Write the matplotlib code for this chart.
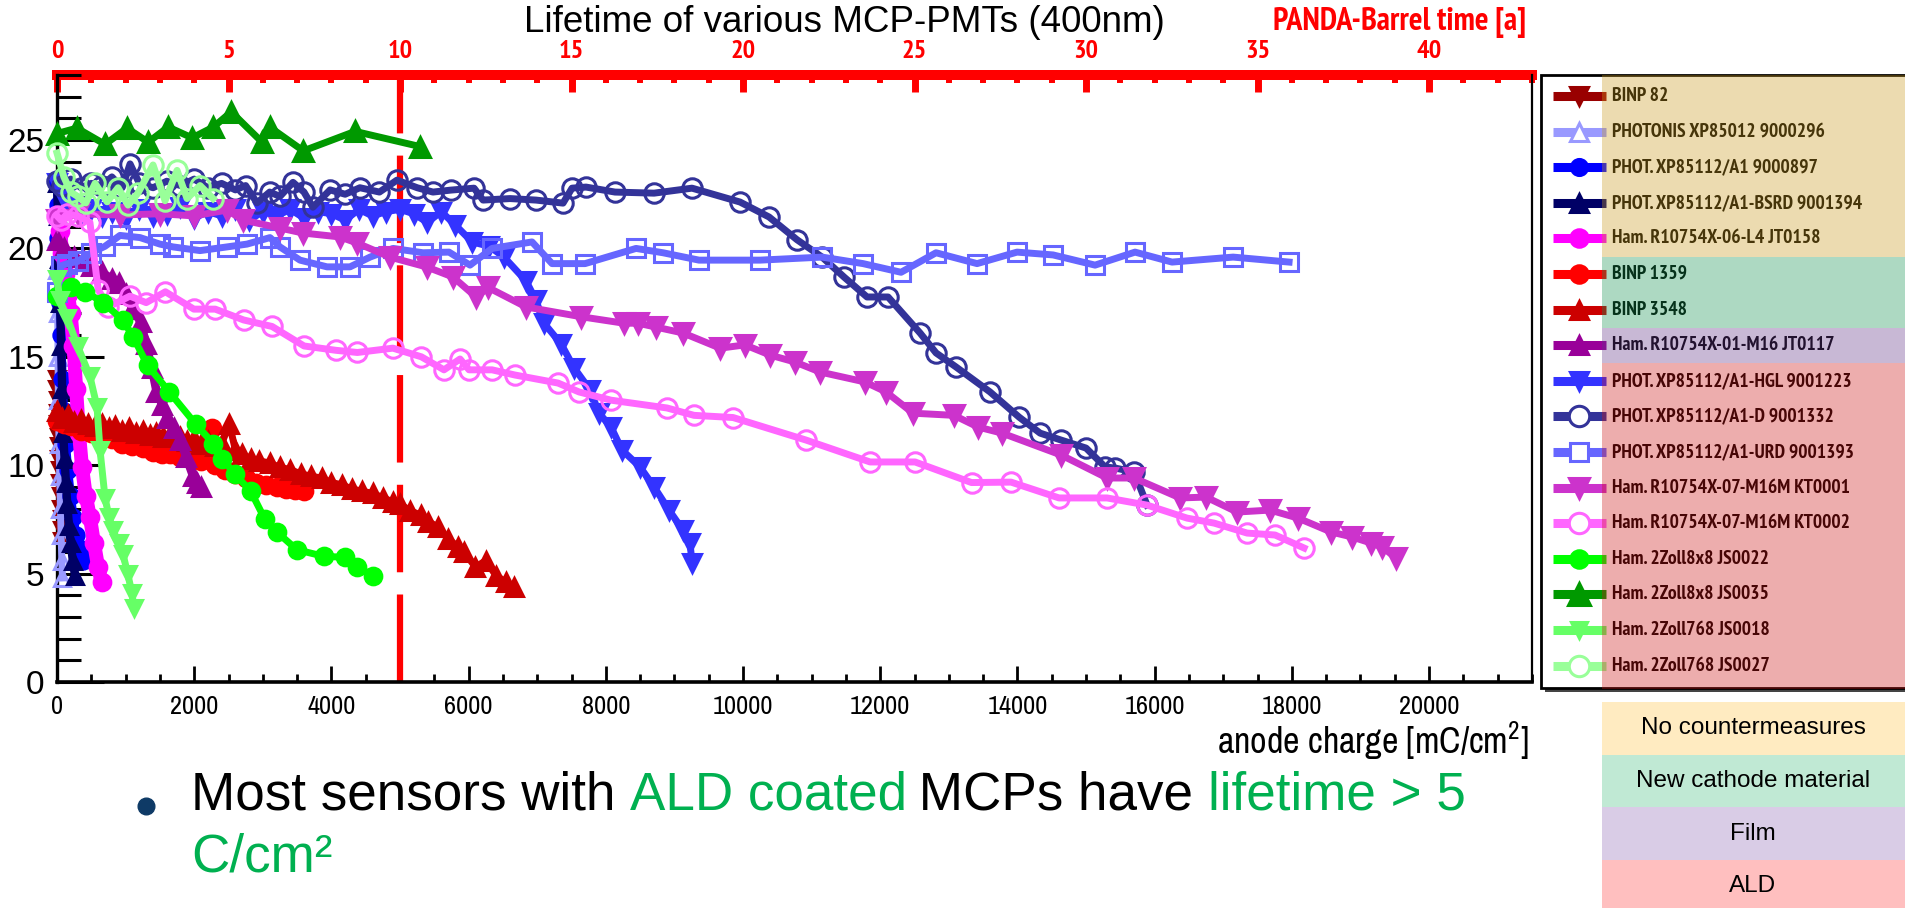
import matplotlib
matplotlib.use("Agg")
import matplotlib.pyplot as plt
from matplotlib.lines import Line2D
from matplotlib.patches import Rectangle
from matplotlib.ticker import MultipleLocator, FixedLocator
from matplotlib import font_manager

# ---------------- data ----------------
binp82_x = [0, 5, 10, 15, 20, 25, 30, 36, 42, 48, 54, 60, 66, 72, 78]
binp82_y = [14.0, 13.5, 13.0, 12.4, 11.9, 11.3, 10.9, 10.3, 9.8, 9.2, 8.6, 8.0, 7.5, 7.0, 6.5]

photonis_x = [0, 5, 10, 15, 20, 30, 40, 50, 60, 70, 80]
photonis_y = [20.5, 19.0, 17.0, 15.0, 13.0, 11.0, 9.5, 8.0, 6.8, 5.6, 4.8]

a1_897_x = [0, 10, 20, 30, 45, 60, 80, 100, 130, 160, 200, 240, 280, 320, 360, 380]
a1_897_y = [23.0, 22.0, 20.5, 19.0, 17.5, 16.0, 14.0, 12.5, 11.0, 9.8, 8.6, 7.6, 6.8, 6.2, 5.8, 5.6]

bsrd_x = [0, 15, 30, 45, 60, 75, 90, 110, 130, 150, 175, 200, 230, 262]
bsrd_y = [23.0, 21.5, 19.5, 17.5, 15.5, 13.5, 11.5, 10.3, 9.2, 8.2, 7.2, 6.4, 5.6, 4.9]

jt0158_x = [0, 40, 80, 120, 160, 200, 240, 280, 320, 365, 420, 480, 540, 600, 650]
jt0158_y = [21.5, 20.8, 19.8, 18.8, 17.9, 17.0, 15.5, 13.5, 11.5, 9.9, 8.6, 7.6, 6.4, 5.3, 4.6]

binp1359_x = [0, 100, 200, 350, 500, 650, 800, 950, 1100, 1250, 1400, 1528, 1650, 1800,
              1950, 2100, 2254, 2306, 2450, 2600, 2750, 2900, 3050, 3200, 3342, 3470, 3601]
binp1359_y = [12.05, 11.9, 11.8, 11.6, 11.5, 11.3, 11.2, 11.0, 10.9, 10.8, 10.6, 10.5, 10.5, 10.4,
              10.3, 10.2, 11.7, 10.0, 9.8, 9.6, 9.4, 9.2, 9.1, 9.0, 8.9, 8.85, 8.8]

binp3548_x = [0, 80, 160, 250, 350, 450, 550, 650, 751, 850, 950, 1050, 1150, 1250, 1350, 1450,
              1550, 1650, 1788, 1900, 2000, 2100, 2200, 2300, 2400, 2513, 2600, 2700, 2824, 2950,
              3100, 3250, 3400, 3550, 3700, 3860, 4000, 4150, 4300, 4450, 4600, 4750, 4900, 5000,
              5150, 5300, 5415, 5550, 5700, 5850, 5933, 6100, 6250, 6400, 6550, 6658]
binp3548_y = [12.5, 12.2, 12.3, 12.0, 12.1, 11.9, 11.8, 11.9, 11.7, 11.8, 11.6, 11.7, 11.5, 11.6, 11.4, 11.5,
              11.3, 11.4, 11.3, 11.1, 11.2, 11.0, 11.1, 10.9, 11.0, 11.9, 10.7, 10.5, 10.3, 10.2,
              10.1, 9.9, 9.8, 9.6, 9.5, 9.4, 9.2, 9.1, 8.9, 8.8, 8.7, 8.5, 8.3, 8.2,
              7.9, 7.7, 7.4, 7.15, 6.6, 6.23, 6.0, 5.3, 5.6, 4.9, 4.6, 4.4]

jt0117_x = [0, 100, 250, 400, 492, 650, 800, 907, 1000, 1100, 1218, 1300, 1380, 1450, 1530,
            1603, 1700, 1793, 1880, 1982, 2040, 2098]
jt0117_y = [20.4, 20.0, 19.6, 19.4, 19.2, 18.9, 18.6, 18.4, 17.9, 17.2, 16.6, 15.6, 14.5, 13.4, 12.8,
            12.2, 11.7, 11.16, 10.4, 9.5, 9.2, 9.0]

hgl_x = [0, 100, 200, 350, 500, 650, 800, 1000, 1200, 1400, 1600, 1800, 2000, 2200, 2400, 2600,
         2800, 3000, 3200, 3400, 3600, 3800, 4000, 4200, 4400, 4600, 4800, 5000, 5200, 5400, 5600,
         5800, 6050, 6300, 6516, 6837, 6983, 7099, 7347, 7536, 7770, 7901, 8076, 8236, 8498, 8703,
         8921, 9125, 9227, 9256]
hgl_y = [23.0, 22.3, 21.9, 21.6, 21.8, 21.5, 21.7, 21.4, 21.8, 21.5, 21.6, 21.9, 21.4, 21.7, 21.5, 21.8,
         21.3, 21.7, 21.5, 21.8, 21.4, 21.7, 21.6, 21.3, 21.8, 21.5, 21.7, 21.8, 21.6, 21.2, 21.7,
         21.1, 20.3, 20.1, 19.6, 18.5, 17.6, 16.55, 15.6, 14.5, 13.47, 12.4, 11.76, 10.7, 9.92, 9.0,
         7.93, 7.0, 6.41, 5.5]

d1332_x = [0, 80, 200, 350, 500, 650, 800, 950, 1065, 1200, 1400, 1600, 1800, 2000, 2200, 2400,
           2600, 2750, 2915, 3100, 3250, 3440, 3600, 3730, 3980, 4200, 4415, 4700, 4955, 5250,
           5480, 5739, 6079, 6210, 6604, 6983, 7376, 7507, 7711, 8134, 8703, 9256, 9956, 10379,
           10787, 11152, 11472, 11807, 12114, 12580, 12813, 13105, 13600, 14023, 14330, 14636,
           15000, 15277, 15423, 15700, 15889]
d1332_y = [23.1, 22.9, 23.2, 22.8, 23.0, 22.9, 23.3, 22.8, 23.9, 23.0, 22.8, 23.1, 22.9, 23.2, 22.8, 23.0,
           22.7, 22.9, 22.1, 22.6, 22.4, 23.05, 22.6, 21.9, 22.7, 22.5, 22.8, 22.6, 23.15, 22.8,
           22.6, 22.69, 22.78, 22.23, 22.3, 22.23, 22.09, 22.78, 22.83, 22.6, 22.55, 22.78, 22.14, 21.45,
           20.4, 19.6, 18.68, 17.76, 17.76, 16.1, 15.18, 14.53, 13.38, 12.22, 11.48, 11.16,
           10.79, 9.92, 9.87, 9.69, 8.16]

urd_x = [0, 60, 150, 300, 500, 700, 918, 1210, 1500, 1691, 2085, 2478, 2770, 3105, 3250, 3542,
         3936, 4271, 4563, 4898, 5335, 5714, 6020, 6341, 6924, 7216, 7697, 8440, 8834, 9358, 10248,
         11152, 11749, 12303, 12813, 13411, 13994, 14519, 15131, 15714, 16253, 17143, 17959]
urd_y = [18.0, 19.2, 19.3, 19.4, 19.8, 20.1, 20.6, 20.5, 20.2, 20.07, 19.9, 20.07, 20.2, 20.5, 20.07, 19.46,
         19.15, 19.15, 19.6, 20.0, 19.8, 19.83, 19.23, 20.0, 20.3, 19.3, 19.3, 20.0, 19.8, 19.46, 19.46,
         19.6, 19.3, 18.9, 19.8, 19.3, 19.83, 19.7, 19.23, 19.83, 19.37, 19.6, 19.37]

kt0001_x = [0, 300, 918, 1500, 2000, 2478, 2711, 3250, 3586, 4125, 4373, 4854, 5394, 5773, 6108,
            6283, 6837, 7638, 8265, 8469, 8732, 9125, 9665, 10029, 10394, 10758, 11122, 11778, 12085,
            12478, 13076, 13426, 13776, 14636, 15306, 15700, 16370, 16749, 17201, 17682, 18090,
            18571, 18877, 19155, 19315, 19519]
kt0001_y = [21.3, 21.6, 21.54, 21.6, 21.5, 21.77, 21.31, 20.94, 20.71, 20.53, 20.25, 19.6, 19.14, 18.68, 17.76,
            18.2, 17.3, 16.85, 16.55, 16.55, 16.37, 16.1, 15.4, 15.55, 15.08, 14.76, 14.3, 13.84, 13.38,
            12.4, 12.3, 11.76, 11.48, 10.47, 9.41, 9.41, 8.49, 8.53, 7.84, 7.93, 7.56,
            6.92, 6.69, 6.41, 6.23, 5.72]

kt0002_x = [0, 60, 150, 300, 480, 600, 750, 1062, 1300, 1580, 1995, 2306, 2720, 3135, 3601, 4067,
            4378, 4896, 5311, 5641, 5875, 6006, 6341, 6676, 7303, 7609, 8076, 8892, 9286, 9854,
            10918, 11851, 12507, 13330, 13907, 14606, 15306, 15889, 16472, 16866, 17347, 17755, 18178]
kt0002_y = [21.5, 21.3, 21.6, 21.5, 21.2, 18.1, 17.3, 17.8, 17.5, 18.0, 17.2, 17.2, 16.7, 16.4, 15.5, 15.3,
            15.2, 15.4, 15.0, 14.4, 14.9, 14.4, 14.4, 14.16, 13.79, 13.38, 13.0, 12.64, 12.3, 12.2,
            11.16, 10.15, 10.15, 9.2, 9.22, 8.49, 8.49, 8.16, 7.56, 7.33, 6.87, 6.78, 6.18]

js0022_x = [0, 207, 415, 674, 958, 1114, 1321, 1632, 2020, 2280, 2409, 2590, 2824, 3031, 3212,
            3497, 3886, 4197, 4378, 4611]
js0022_y = [17.8, 18.2, 18.0, 17.5, 16.7, 15.9, 14.6, 13.4, 11.9, 11.0, 10.3, 9.6, 8.8, 7.5, 6.9,
            6.1, 5.8, 5.75, 5.3, 4.9]

js0035_x = [0, 290, 700, 1020, 1330, 1620, 1970, 2280, 2540, 2990, 3100, 3590, 4345, 5290]
js0035_y = [25.3, 25.55, 24.8, 25.55, 24.9, 25.6, 25.1, 25.6, 26.3, 24.9, 25.6, 24.5, 25.4, 24.7]

js0018_x = [0, 44, 150, 300, 480, 583, 627, 700, 760, 816, 900, 962, 1030, 1093, 1120]
js0018_y = [18.6, 17.6, 16.8, 15.5, 14.1, 12.7, 10.7, 8.5, 7.6, 7.0, 6.4, 5.9, 5.0, 4.1, 3.4]

js0027_x = [0, 100, 200, 300, 420, 555, 730, 890, 1035, 1180, 1400, 1575, 1750, 1895, 2085, 2275]
js0027_y = [24.4, 23.3, 22.6, 22.4, 22.1, 23.0, 22.15, 22.8, 22.0, 22.55, 23.85, 22.2, 23.6, 22.3, 22.9, 22.3]

labels = ["BINP 82", "PHOTONIS XP85012 9000296", "PHOT. XP85112/A1 9000897",
          "PHOT. XP85112/A1-BSRD 9001394", "Ham. R10754X-06-L4 JT0158", "BINP 1359", "BINP 3548",
          "Ham. R10754X-01-M16 JT0117", "PHOT. XP85112/A1-HGL 9001223", "PHOT. XP85112/A1-D 9001332",
          "PHOT. XP85112/A1-URD 9001393", "Ham. R10754X-07-M16M KT0001", "Ham. R10754X-07-M16M KT0002",
          "Ham. 2Zoll8x8 JS0022", "Ham. 2Zoll8x8 JS0035", "Ham. 2Zoll768 JS0018", "Ham. 2Zoll768 JS0027"]
xs = [binp82_x, photonis_x, a1_897_x, bsrd_x, jt0158_x, binp1359_x, binp3548_x, jt0117_x, hgl_x,
      d1332_x, urd_x, kt0001_x, kt0002_x, js0022_x, js0035_x, js0018_x, js0027_x]
ys = [binp82_y, photonis_y, a1_897_y, bsrd_y, jt0158_y, binp1359_y, binp3548_y, jt0117_y, hgl_y,
      d1332_y, urd_y, kt0001_y, kt0002_y, js0022_y, js0035_y, js0018_y, js0027_y]

bottom_ticks = [0, 2000, 4000, 6000, 8000, 10000, 12000, 14000, 16000, 18000, 20000]
left_ticks = [0, 5, 10, 15, 20, 25]
top_ticks = [0, 5, 10, 15, 20, 25, 30, 35, 40]
categories = ["No countermeasures", "New cathode material", "Film", "ALD"]

# ---------------- styles ----------------
colors = ["#990000", "#9999FF", "#0000FF", "#000066", "#FF00FF", "#FF0000", "#CC0000", "#990099",
          "#3333FF", "#333399", "#6666FF", "#CC33CC", "#FF66FF", "#00FF00", "#009900", "#66FF66", "#99FF99"]
markers = ["v", "^", "o", "^", "o", "o", "^", "^", "v", "o", "s", "v", "o", "o", "^", "v", "o"]
filled = [True, False, True, True, True, True, True, True, True, False, False, True, False, True, True, True, False]
msizes = [12, 12, 11, 12, 12, 12, 13, 13, 13, 14, 13, 14, 14, 12, 15, 11, 14]
lwidths = [6, 5, 6, 6, 10, 5, 5, 6, 5, 5, 5, 5, 5, 5, 5, 5, 5]


def _w(v):
    if isinstance(v, str):
        return font_manager.weight_dict.get(v, 400)
    return v


entries = font_manager.fontManager.ttflist
reg_pref = ["Liberation Sans Narrow", "Arial Narrow", "Archivo Narrow", "Roboto Condensed",
            "PT Sans Narrow", "Fira Sans Condensed", "IBM Plex Sans Condensed"]
bold_pref = ["Liberation Sans Narrow", "Arial Narrow", "PT Sans Narrow", "Archivo Narrow",
             "Fira Sans Condensed", "IBM Plex Sans Condensed", "Roboto Condensed"]
reg_ok = {f.name for f in entries if _w(f.weight) <= 500 and f.style == "normal"}
bold_ok = {f.name for f in entries if _w(f.weight) >= 650 and f.style == "normal"}
NARROW_REG = next((n for n in reg_pref if n in reg_ok), "Liberation Sans")
NARROW_BOLD = next((n for n in bold_pref if n in bold_ok), "Liberation Sans")
NARROW = [NARROW_REG, "Liberation Sans"]
NARROWB = [NARROW_BOLD, "Liberation Sans"]
SANS = ["Liberation Sans", "DejaVu Sans"]
plt.rcParams["lines.scale_dashes"] = False
plt.rcParams["mathtext.fontset"] = "custom"
plt.rcParams["mathtext.rm"] = NARROW_REG

W, H = 1905, 908
fig = plt.figure(figsize=(W / 100, H / 100), dpi=100)
renderer = fig.canvas.get_renderer()


def fx(px):
    return px / W


def fy(py):
    return 1 - py / H


def measured(s, **kw):
    t = fig.text(0, 0, s, **kw)
    w = t.get_window_extent(renderer).width
    t.remove()
    return w


ax = fig.add_axes([fx(57), fy(682), fx(1532) - fx(57), fy(75) - fy(682)])
ax.set_xlim(0, 21500)
ax.set_ylim(0, 28)

for i in range(len(labels)):
    ax.plot(xs[i], ys[i], color=colors[i], lw=lwidths[i], marker=markers[i], ms=msizes[i],
            mfc=colors[i] if filled[i] else "none", mec=colors[i], mew=2.2,
            clip_on=False, zorder=3 + i * 0.01)

ax.axvline(5000, color="#FF0000", lw=4.5, dashes=(63, 16), zorder=2)

ax.xaxis.set_major_locator(FixedLocator(bottom_ticks))
ax.xaxis.set_minor_locator(MultipleLocator(500))
ax.yaxis.set_major_locator(FixedLocator(left_ticks))
ax.yaxis.set_minor_locator(MultipleLocator(1))
ax.set_xticklabels([str(t) for t in bottom_ticks], fontsize=19, family=NARROW)
ax.set_yticklabels([str(t) for t in left_ticks], fontsize=24, family=SANS)
ax.tick_params(axis="x", which="major", direction="in", length=11.5, width=2, pad=9, top=False)
ax.tick_params(axis="x", which="minor", direction="in", length=6, width=2, top=False)
ax.tick_params(axis="y", which="major", direction="in", length=34, width=2.2, pad=9, right=False)
ax.tick_params(axis="y", which="minor", direction="in", length=17, width=2.2, right=False)
ax.spines["left"].set_linewidth(2.4)
ax.spines["bottom"].set_linewidth(2.6)
ax.spines["right"].set_linewidth(1.6)
ax.spines["top"].set_visible(False)

secax = ax.secondary_xaxis("top", functions=(lambda v: v / 500.0, lambda t: t * 500.0))
secax.xaxis.set_major_locator(FixedLocator(top_ticks))
secax.xaxis.set_minor_locator(MultipleLocator(1))
secax.set_xticklabels([str(t) for t in top_ticks], fontsize=19, family=NARROWB,
                      fontweight="bold", color="#FF0000")
secax.tick_params(which="major", direction="in", length=12, width=5, color="#FF0000", pad=8.5)
secax.tick_params(which="minor", direction="in", length=6, width=4.3, color="#FF0000")
secax.spines["top"].set_color("#FF0000")
secax.spines["top"].set_linewidth(7.2)

fig.text(fx(844), fy(22), "Lifetime of various MCP-PMTs (400nm)", ha="center", va="center",
         fontsize=26.5, family=SANS)

# PANDA label: left-anchored at the reference start, size fitted to the reference width
PANDA = "PANDA-Barrel time [a]"
pw10 = measured(PANDA, fontsize=10, family=NARROWB, fontweight="bold")
PANDA_FS = min(24.0, 10 * 254.0 / pw10)
fig.text(fx(1273), fy(22), PANDA, ha="left", va="center", fontsize=PANDA_FS, family=NARROWB,
         fontweight="bold", color="#FF0000")

ANODE = r"anode charge [mC/cm$^{2}$]"
aw10 = measured(ANODE, fontsize=10, family=NARROW)
ANODE_FS = min(28.0, 10 * 315.0 / aw10)
fig.text(fx(1529), fy(741), ANODE, ha="right", va="center", fontsize=ANODE_FS, family=NARROW)

# ---------------- legend (manual) ----------------
fig.add_artist(Rectangle((fx(1545), fy(692)), fx(1915) - fx(1545), fy(79) - fy(692),
                         transform=fig.transFigure, fc="#444444", ec="none", zorder=3.8))
fig.add_artist(Rectangle((fx(1541), fy(688)), fx(1915) - fx(1541), fy(75) - fy(688),
                         transform=fig.transFigure, fc="white", ec="black", lw=2, zorder=4))

pw = measured("PHOTONIS XP85012 9000296", fontsize=10, family=NARROWB, fontweight="bold")
LEG_FS = min(15.0, 10 * 214.0 / pw)

for i in range(len(labels)):
    yy = fy(96 + i * 35.6)
    fig.add_artist(Line2D([fx(1553), fx(1606)], [yy, yy], transform=fig.transFigure,
                          color=colors[i], lw=6.5, solid_capstyle="butt", zorder=5))
    fig.add_artist(Line2D([fx(1579)], [yy], transform=fig.transFigure, ls="none",
                          marker=markers[i], ms=msizes[i] * 1.05,
                          mfc=colors[i] if filled[i] else "white", mec=colors[i], mew=2.2,
                          zorder=5.1))
    fig.text(fx(1612), yy, labels[i], ha="left", va="center", fontsize=LEG_FS, family=NARROWB,
             fontweight="bold", color="black", zorder=5.2)

bands = [(75, 257, "#CB9A1D"), (257, 328, "#149250"), (328, 363, "#643689"), (363, 689, "#CE1414")]
for top, bot, c in bands:
    fig.add_artist(Rectangle((fx(1602), fy(bot)), fx(1910) - fx(1602), fy(top) - fy(bot),
                             transform=fig.transFigure, fc=c, ec="none", alpha=0.35, zorder=8))

cat_colors = ["#FFEBC1", "#C0E9D4", "#D9CCE6", "#FFBFBF"]
cat_edges = [702, 755, 807, 860, 912]
for k, name in enumerate(categories):
    t, b = cat_edges[k], cat_edges[k + 1]
    fig.add_artist(Rectangle((fx(1602), fy(b)), fx(1910) - fx(1602), fy(t) - fy(b),
                             transform=fig.transFigure, fc=cat_colors[k], ec="none", zorder=4))
    fig.text(fx(1753), fy((t + b) / 2), name, ha="center", va="center", fontsize=17.5,
             family=SANS, zorder=5)

# ---------------- bullet text ----------------
GREEN = "#00B050"
BFS = 38.2
fig.add_artist(Line2D([fx(146)], [fy(806)], transform=fig.transFigure, ls="none", marker="o",
                      ms=12, mfc="#0E3A66", mec="#0E3A66"))


def width_px(s):
    return measured(s + "M", fontsize=BFS, family=SANS) - measured("M", fontsize=BFS, family=SANS)


line1 = [("Most sensors with ", "black"), ("ALD coated", GREEN), (" MCPs have ", "black"),
         ("lifetime > 5", GREEN)]
prefix = ""
for txt, col in line1:
    xpix = 191 + width_px(prefix)
    fig.text(fx(xpix), fy(810), txt, ha="left", va="baseline", fontsize=BFS, family=SANS,
             color=col)
    prefix += txt
fig.text(fx(191), fy(871), "C/cm²", ha="left", va="baseline", fontsize=BFS, family=SANS,
         color=GREEN)

fig.savefig("out.png", dpi=100)
